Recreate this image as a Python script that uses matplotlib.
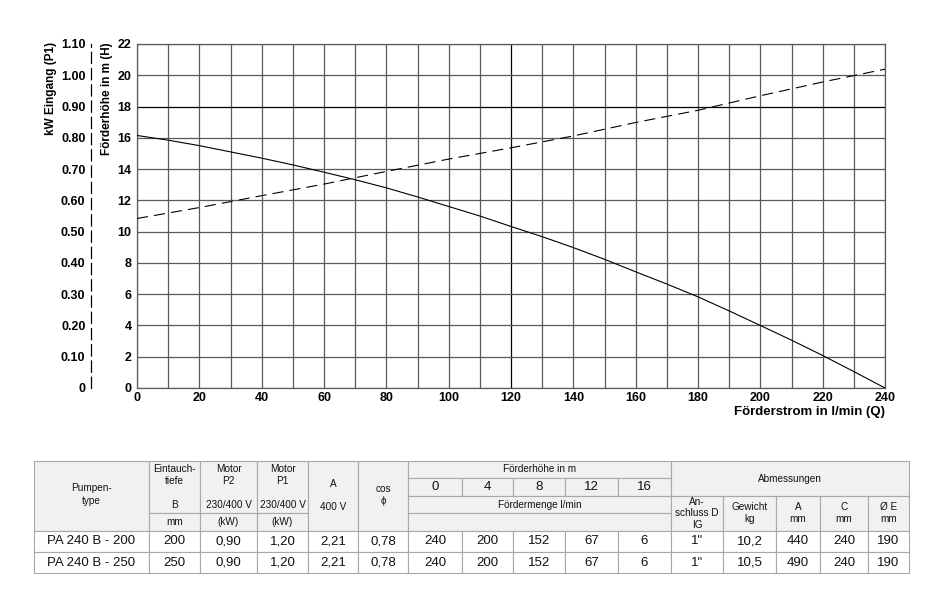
import matplotlib
matplotlib.use("Agg")
import matplotlib.pyplot as plt
from matplotlib.patches import Rectangle

plt.rcParams['font.family'] = ['Liberation Sans', 'DejaVu Sans']

# ---------------- data ----------------
q_head = [0, 10, 20, 30, 40, 50, 60, 70, 80, 90, 100, 110, 120, 130, 140, 150, 160,
          170, 180, 190, 200, 210, 220, 230, 240]
head_m = [16.15, 15.85, 15.5, 15.1, 14.7, 14.27, 13.8, 13.32, 12.8, 12.22, 11.61, 11.0, 10.33,
          9.68, 8.98, 8.23, 7.43, 6.65, 5.83, 4.93, 4.0, 3.06, 2.08, 1.05, 0.0]
q_power = [0, 20, 40, 60, 80, 100, 120, 140, 160, 180, 200, 220, 240]
power_kw = [0.542, 0.577, 0.615, 0.652, 0.6925, 0.732, 0.768, 0.806, 0.849, 0.888, 0.9345, 0.9785, 1.0195]

x_ticks = [0, 20, 40, 60, 80, 100, 120, 140, 160, 180, 200, 220, 240]
h_ticks = [0, 2, 4, 6, 8, 10, 12, 14, 16, 18, 20, 22]
kw_ticks = [0, 0.10, 0.20, 0.30, 0.40, 0.50, 0.60, 0.70, 0.80, 0.90, 1.00, 1.10]
kw_labels = ['0', '0.10', '0.20', '0.30', '0.40', '0.50', '0.60', '0.70', '0.80', '0.90', '1.00', '1.10']

head_cols = ['0', '4', '8', '12', '16']
table_rows = [
    ['PA 240 B - 200', '200', '0,90', '1,20', '2,21', '0,78', '240', '200', '152', '67', '6', '1"', '10,2', '440', '240', '190'],
    ['PA 240 B - 250', '250', '0,90', '1,20', '2,21', '0,78', '240', '200', '152', '67', '6', '1"', '10,5', '490', '240', '190'],
]

W, H = 933, 600
fig = plt.figure(figsize=(W / 100, H / 100), dpi=100)

# ---------------- chart ----------------
L, R, T, B = 137, 885, 44, 388
ax = fig.add_axes([L / W, 1 - B / H, (R - L) / W, (B - T) / H])
ax.set_xlim(0, 240)
ax.set_ylim(0, 22)
ax.set_xticks(x_ticks)
ax.set_xticks(range(10, 240, 20), minor=True)
ax.set_yticks(h_ticks)
ax.set_xticklabels([str(v) for v in x_ticks], fontweight='bold', fontsize=9)
ax.set_yticklabels([str(v) for v in h_ticks], fontweight='bold', fontsize=9)
ax.tick_params(axis='both', which='both', length=0)
ax.tick_params(axis='x', pad=3)
ax.tick_params(axis='y', pad=4)
grid_c = '#5a5a5a'
ax.grid(True, which='both', color=grid_c, linewidth=0.9)
for s in ax.spines.values():
    s.set_color(grid_c)
    s.set_linewidth(0.9)
for v, gl in zip(h_ticks, ax.yaxis.get_gridlines()):
    if v == 18:
        gl.set_color('black')
for v, gl in zip(x_ticks, ax.xaxis.get_gridlines()):
    if v == 120:
        gl.set_color('black')
ax.set_axisbelow(True)

ax.plot(q_head, head_m, color='black', linewidth=0.8, zorder=3)

ax2 = ax.twinx()
ax2.set_ylim(0, 1.1)
ax2.plot(q_power, power_kw, color='black', linewidth=0.8, dashes=(10, 5.5), zorder=3)
for k in ('top', 'bottom', 'right'):
    ax2.spines[k].set_visible(False)
ax2.spines['left'].set_visible(True)
ax2.spines['left'].set_position(('axes', (91 - L) / (R - L)))
ax2.spines['left'].set_linestyle((0, (9, 4)))
ax2.spines['left'].set_color('black')
ax2.spines['left'].set_linewidth(0.9)
ax2.yaxis.tick_left()
ax2.set_yticks(kw_ticks)
ax2.set_yticklabels(kw_labels, fontweight='bold', fontsize=9)
ax2.tick_params(axis='y', length=0, pad=4)

fig.text(51 / W, 1 - 42 / H, 'kW Eingang (P1)', rotation=90, ha='center', va='top',
         fontsize=8.5, fontweight='bold')
fig.text(107 / W, 1 - 42 / H, 'Förderhöhe in m (H)', rotation=90, ha='center', va='top',
         fontsize=8.5, fontweight='bold')
fig.text(885 / W, 1 - 412 / H, 'Förderstrom in l/min (Q)', ha='right', va='center',
         fontsize=9.5, fontweight='bold')

# ---------------- table ----------------
tax = fig.add_axes([0, 0, 1, 1])
tax.set_xlim(0, W)
tax.set_ylim(H, 0)
tax.axis('off')
tax.patch.set_visible(False)

xs = [34, 149, 200, 257, 308, 358, 408, 462, 513, 565, 618, 671, 723, 776, 820, 868, 909]
ys = [461, 478, 496, 513, 531, 552, 573]
bc = '#a8a8a8'
hbg = '#f1f1f1'
hs = 7.2
ds = 9.5


def cell(x0, x1, y0, y1, bg=hbg):
    tax.add_patch(Rectangle((x0, y0), x1 - x0, y1 - y0, facecolor=bg, edgecolor=bc, linewidth=0.8))


def txt(x, y, s, size=hs):
    tax.text(x, y, s, ha='center', va='center', fontsize=size, color='#111111')


# header cells
cell(xs[0], xs[1], ys[0], ys[4])
txt((xs[0] + xs[1]) / 2, 488, 'Pumpen-')
txt((xs[0] + xs[1]) / 2, 501, 'type')
for i, (l1, l2, l3, l4) in enumerate([('Eintauch-', 'tiefe', 'B', 'mm'),
                                       ('Motor', 'P2', '230/400 V', '(kW)'),
                                       ('Motor', 'P1', '230/400 V', '(kW)')]):
    x0, x1 = xs[1 + i], xs[2 + i]
    cx = (x0 + x1) / 2
    cell(x0, x1, ys[0], ys[3])
    cell(x0, x1, ys[3], ys[4])
    txt(cx, 469, l1)
    txt(cx, 481, l2)
    txt(cx, 505, l3)
    txt(cx, 522, l4)
cell(xs[4], xs[5], ys[0], ys[4])
txt((xs[4] + xs[5]) / 2, 484, 'A')
txt((xs[4] + xs[5]) / 2, 507, '400 V')
cell(xs[5], xs[6], ys[0], ys[4])
txt((xs[5] + xs[6]) / 2, 489, 'cos')
txt((xs[5] + xs[6]) / 2, 501, 'ϕ')
cell(xs[6], xs[11], ys[0], ys[1])
txt((xs[6] + xs[11]) / 2, 469.5, 'Förderhöhe in m')
for i, h in enumerate(head_cols):
    cell(xs[6 + i], xs[7 + i], ys[1], ys[2])
    txt((xs[6 + i] + xs[7 + i]) / 2, 487.5, h, size=ds)
cell(xs[6], xs[11], ys[2], ys[3])
txt((xs[6] + xs[11]) / 2, 504.5, 'Fördermenge l/min')
cell(xs[6], xs[11], ys[3], ys[4])
cell(xs[11], xs[16], ys[0], ys[2])
txt((xs[11] + xs[16]) / 2, 479, 'Abmessungen')
dims = [('An-', 'schluss D', 'IG'), ('Gewicht', 'kg'), ('A', 'mm'), ('C', 'mm'), ('Ø E', 'mm')]
for i, lines in enumerate(dims):
    x0, x1 = xs[11 + i], xs[12 + i]
    cx = (x0 + x1) / 2
    cell(x0, x1, ys[2], ys[4])
    if len(lines) == 3:
        txt(cx, 502, lines[0])
        txt(cx, 513.5, lines[1])
        txt(cx, 525, lines[2])
    else:
        txt(cx, 507.5, lines[0])
        txt(cx, 519, lines[1])

# data rows
for r, row in enumerate(table_rows):
    y0, y1 = ys[4 + r], ys[5 + r]
    for c, val in enumerate(row):
        cell(xs[c], xs[c + 1], y0, y1, bg='white')
        txt((xs[c] + xs[c + 1]) / 2, (y0 + y1) / 2, val, size=ds)

fig.savefig('out.png', dpi=100)
